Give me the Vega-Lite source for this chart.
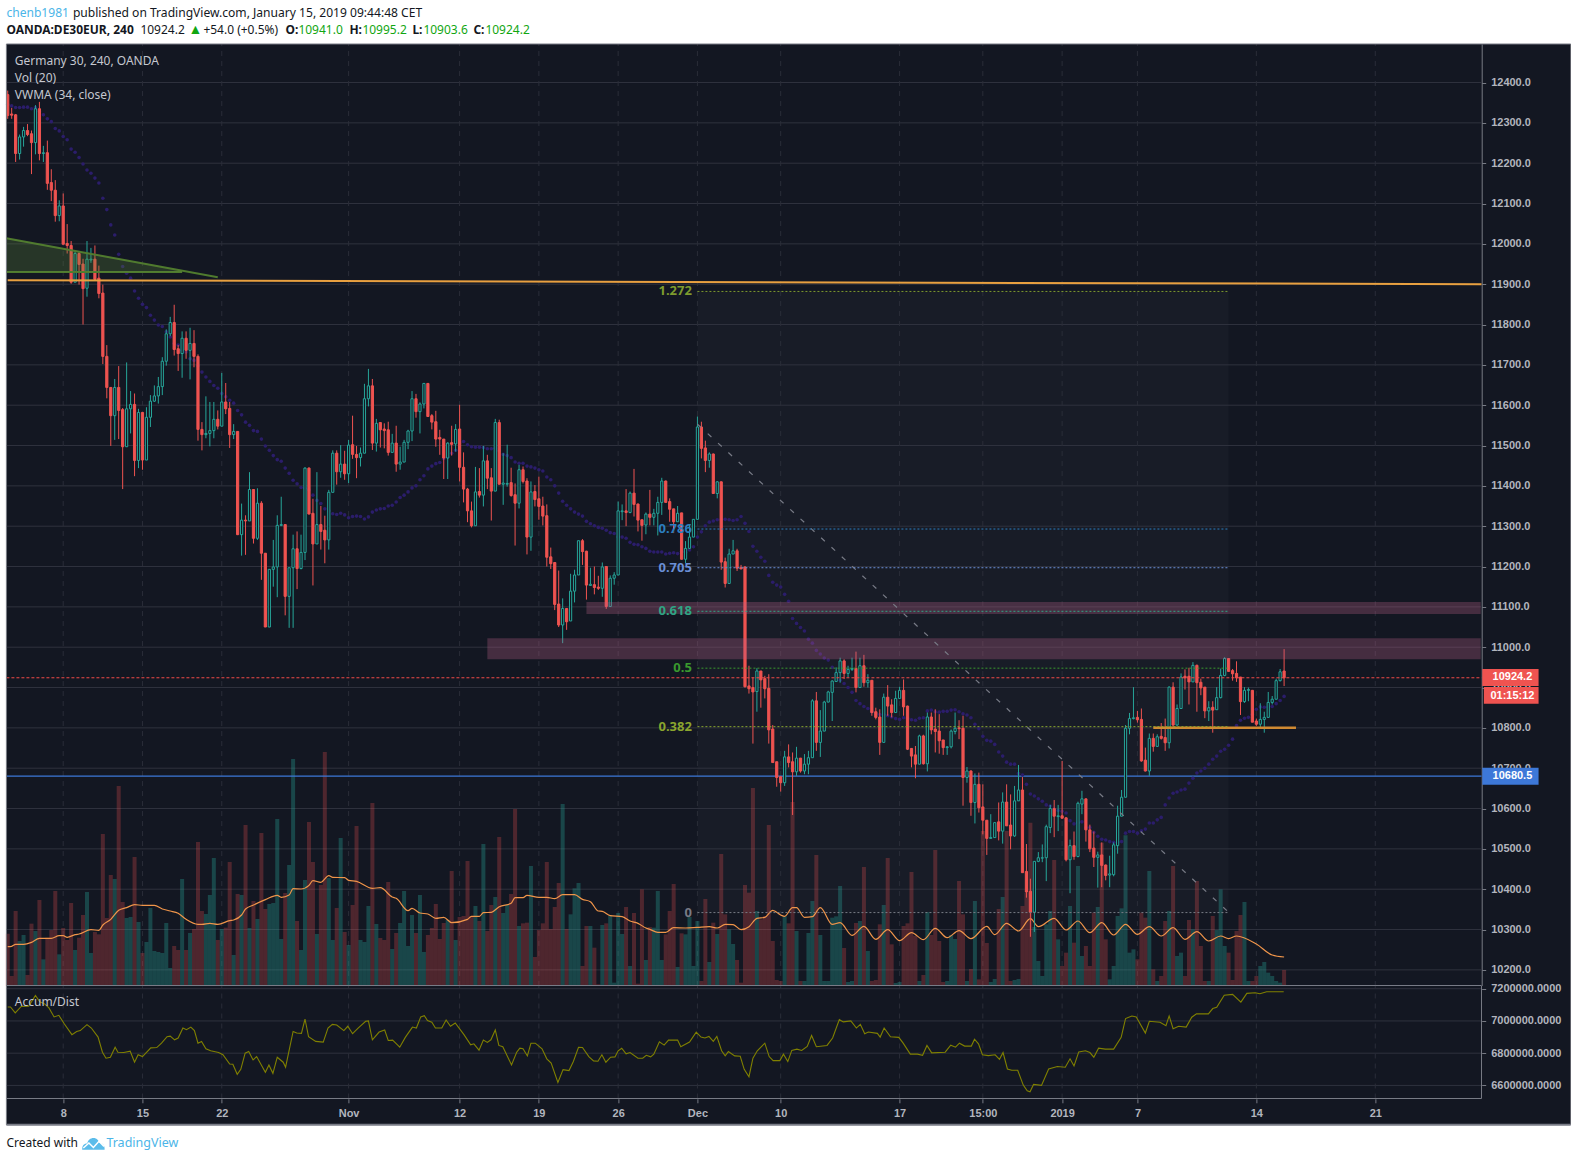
{
"$schema":"https://vega.github.io/schema/vega-lite/v6.json",
"background":"white",
"padding":{"left":2.4,"top":0,"right":0,"bottom":0},
"spacing":0,
"bounds":"flush",
"config":{"view":{"stroke":null},"axis":{"labelFont":"Liberation Sans","labelFontSize":11,"labelFontWeight":"bold","labelColor":"#b2b5be","tickColor":"#787b86","domainColor":"#787b86","title":null,"grid":false},"text":{"font":"Noto Sans"}},
"datasets":{
"bars":[
{"i":0,"o":12370,"h":12380,"l":12310,"c":12318,"v":157,"w":12345},
{"i":1,"o":12322,"h":12337,"l":12310,"c":12319,"v":30,"w":12342},
{"i":2,"o":12320,"h":12322,"l":12203,"c":12224,"v":225,"w":12338},
{"i":3,"o":12224,"h":12271,"l":12209,"c":12265,"v":135,"w":12338},
{"i":4,"o":12265,"h":12290,"l":12241,"c":12281,"v":153,"w":12339},
{"i":5,"o":12281,"h":12297,"l":12267,"c":12271,"v":33,"w":12339},
{"i":6,"o":12273,"h":12281,"l":12173,"c":12251,"v":187,"w":12335},
{"i":7,"o":12251,"h":12344,"l":12222,"c":12335,"v":165,"w":12338},
{"i":8,"o":12335,"h":12352,"l":12207,"c":12224,"v":258,"w":12328},
{"i":9,"o":12224,"h":12243,"l":12203,"c":12226,"v":80,"w":12320},
{"i":10,"o":12226,"h":12256,"l":12134,"c":12150,"v":145,"w":12310},
{"i":11,"o":12152,"h":12185,"l":12106,"c":12133,"v":168,"w":12303},
{"i":12,"o":12133,"h":12158,"l":12055,"c":12070,"v":285,"w":12286},
{"i":13,"o":12070,"h":12108,"l":12056,"c":12094,"v":95,"w":12280},
{"i":14,"o":12094,"h":12125,"l":11999,"c":11999,"v":174,"w":12266},
{"i":15,"o":12001,"h":12049,"l":11976,"c":11996,"v":138,"w":12258},
{"i":16,"o":11996,"h":12007,"l":11901,"c":11905,"v":249,"w":12235},
{"i":17,"o":11905,"h":11982,"l":11905,"c":11976,"v":108,"w":12227},
{"i":18,"o":11976,"h":11982,"l":11899,"c":11949,"v":145,"w":12214},
{"i":19,"o":11950,"h":11963,"l":11800,"c":11889,"v":213,"w":12198},
{"i":20,"o":11890,"h":12007,"l":11869,"c":11962,"v":282,"w":12183},
{"i":21,"o":11960,"h":11990,"l":11953,"c":11962,"v":99,"w":12175},
{"i":22,"o":11962,"h":11996,"l":11912,"c":11912,"v":162,"w":12163},
{"i":23,"o":11915,"h":11946,"l":11865,"c":11877,"v":155,"w":12151},
{"i":24,"o":11878,"h":11899,"l":11702,"c":11721,"v":456,"w":12113},
{"i":25,"o":11721,"h":11749,"l":11617,"c":11644,"v":204,"w":12085},
{"i":26,"o":11644,"h":11644,"l":11499,"c":11574,"v":333,"w":12047},
{"i":27,"o":11574,"h":11665,"l":11514,"c":11644,"v":321,"w":12022},
{"i":28,"o":11644,"h":11697,"l":11516,"c":11587,"v":600,"w":11974},
{"i":29,"o":11589,"h":11593,"l":11392,"c":11497,"v":252,"w":11944},
{"i":30,"o":11497,"h":11706,"l":11497,"c":11591,"v":204,"w":11927},
{"i":31,"o":11591,"h":11635,"l":11530,"c":11602,"v":207,"w":11915},
{"i":32,"o":11602,"h":11629,"l":11424,"c":11463,"v":387,"w":11883},
{"i":33,"o":11463,"h":11591,"l":11444,"c":11582,"v":192,"w":11865},
{"i":34,"o":11582,"h":11582,"l":11440,"c":11464,"v":99,"w":11850},
{"i":35,"o":11464,"h":11595,"l":11464,"c":11570,"v":132,"w":11842},
{"i":36,"o":11570,"h":11625,"l":11546,"c":11610,"v":234,"w":11823},
{"i":37,"o":11610,"h":11649,"l":11608,"c":11623,"v":105,"w":11811},
{"i":38,"o":11623,"h":11670,"l":11604,"c":11646,"v":102,"w":11799},
{"i":39,"o":11646,"h":11719,"l":11625,"c":11709,"v":99,"w":11795},
{"i":40,"o":11709,"h":11788,"l":11698,"c":11777,"v":189,"w":11782},
{"i":41,"o":11777,"h":11819,"l":11771,"c":11805,"v":54,"w":11769},
{"i":42,"o":11805,"h":11849,"l":11723,"c":11738,"v":120,"w":11753},
{"i":43,"o":11740,"h":11749,"l":11685,"c":11728,"v":108,"w":11749},
{"i":44,"o":11728,"h":11783,"l":11668,"c":11766,"v":321,"w":11736},
{"i":45,"o":11766,"h":11783,"l":11715,"c":11736,"v":108,"w":11732},
{"i":46,"o":11736,"h":11792,"l":11664,"c":11753,"v":159,"w":11715},
{"i":47,"o":11753,"h":11786,"l":11694,"c":11721,"v":171,"w":11711},
{"i":48,"o":11721,"h":11726,"l":11512,"c":11540,"v":432,"w":11698},
{"i":49,"o":11540,"h":11558,"l":11488,"c":11527,"v":225,"w":11682},
{"i":50,"o":11527,"h":11622,"l":11518,"c":11530,"v":216,"w":11670},
{"i":51,"o":11530,"h":11608,"l":11498,"c":11537,"v":273,"w":11659},
{"i":52,"o":11537,"h":11608,"l":11518,"c":11565,"v":384,"w":11649},
{"i":53,"o":11565,"h":11587,"l":11540,"c":11548,"v":138,"w":11642},
{"i":54,"o":11548,"h":11680,"l":11548,"c":11608,"v":171,"w":11629},
{"i":55,"o":11608,"h":11655,"l":11578,"c":11591,"v":175,"w":11621},
{"i":56,"o":11592,"h":11608,"l":11494,"c":11527,"v":372,"w":11612},
{"i":57,"o":11527,"h":11553,"l":11516,"c":11535,"v":93,"w":11605},
{"i":58,"o":11535,"h":11536,"l":11278,"c":11279,"v":276,"w":11587},
{"i":59,"o":11279,"h":11356,"l":11227,"c":11315,"v":273,"w":11576},
{"i":60,"o":11315,"h":11327,"l":11229,"c":11313,"v":483,"w":11558},
{"i":61,"o":11313,"h":11434,"l":11313,"c":11391,"v":174,"w":11550},
{"i":62,"o":11391,"h":11391,"l":11257,"c":11270,"v":255,"w":11537},
{"i":63,"o":11270,"h":11394,"l":11266,"c":11357,"v":201,"w":11535},
{"i":64,"o":11357,"h":11362,"l":11167,"c":11233,"v":459,"w":11516},
{"i":65,"o":11233,"h":11233,"l":11050,"c":11050,"v":231,"w":11499},
{"i":66,"o":11050,"h":11193,"l":11050,"c":11193,"v":246,"w":11488},
{"i":67,"o":11193,"h":11266,"l":11150,"c":11199,"v":249,"w":11475},
{"i":68,"o":11199,"h":11327,"l":11124,"c":11302,"v":501,"w":11465},
{"i":69,"o":11302,"h":11373,"l":11300,"c":11304,"v":141,"w":11461},
{"i":70,"o":11304,"h":11304,"l":11079,"c":11126,"v":279,"w":11444},
{"i":71,"o":11126,"h":11197,"l":11048,"c":11197,"v":363,"w":11431},
{"i":72,"o":11197,"h":11279,"l":11048,"c":11244,"v":681,"w":11414},
{"i":73,"o":11244,"h":11287,"l":11144,"c":11195,"v":195,"w":11405},
{"i":74,"o":11195,"h":11279,"l":11193,"c":11235,"v":108,"w":11396},
{"i":75,"o":11235,"h":11446,"l":11216,"c":11444,"v":318,"w":11394},
{"i":76,"o":11444,"h":11446,"l":11330,"c":11330,"v":492,"w":11390},
{"i":77,"o":11332,"h":11368,"l":11153,"c":11256,"v":372,"w":11377},
{"i":78,"o":11256,"h":11434,"l":11256,"c":11304,"v":156,"w":11364},
{"i":79,"o":11304,"h":11350,"l":11242,"c":11287,"v":303,"w":11356},
{"i":80,"o":11290,"h":11326,"l":11208,"c":11266,"v":702,"w":11343},
{"i":81,"o":11266,"h":11390,"l":11242,"c":11384,"v":324,"w":11338},
{"i":82,"o":11384,"h":11488,"l":11384,"c":11481,"v":138,"w":11331},
{"i":83,"o":11481,"h":11488,"l":11403,"c":11435,"v":234,"w":11329},
{"i":84,"o":11435,"h":11501,"l":11420,"c":11454,"v":444,"w":11332},
{"i":85,"o":11454,"h":11487,"l":11415,"c":11430,"v":162,"w":11328},
{"i":86,"o":11430,"h":11514,"l":11407,"c":11501,"v":123,"w":11321},
{"i":87,"o":11502,"h":11574,"l":11467,"c":11478,"v":243,"w":11324},
{"i":88,"o":11478,"h":11499,"l":11419,"c":11470,"v":480,"w":11325},
{"i":89,"o":11470,"h":11495,"l":11448,"c":11481,"v":138,"w":11324},
{"i":90,"o":11481,"h":11653,"l":11481,"c":11616,"v":132,"w":11318},
{"i":91,"o":11616,"h":11690,"l":11597,"c":11648,"v":240,"w":11323},
{"i":92,"o":11648,"h":11665,"l":11489,"c":11506,"v":549,"w":11335},
{"i":93,"o":11506,"h":11566,"l":11485,"c":11555,"v":186,"w":11340},
{"i":94,"o":11557,"h":11557,"l":11495,"c":11539,"v":144,"w":11343},
{"i":95,"o":11541,"h":11555,"l":11493,"c":11537,"v":138,"w":11344},
{"i":96,"o":11539,"h":11559,"l":11475,"c":11483,"v":312,"w":11350},
{"i":97,"o":11483,"h":11529,"l":11483,"c":11506,"v":111,"w":11352},
{"i":98,"o":11506,"h":11549,"l":11435,"c":11454,"v":159,"w":11360},
{"i":99,"o":11454,"h":11497,"l":11440,"c":11459,"v":189,"w":11371},
{"i":100,"o":11459,"h":11514,"l":11459,"c":11508,"v":285,"w":11377},
{"i":101,"o":11508,"h":11539,"l":11491,"c":11536,"v":120,"w":11385},
{"i":102,"o":11536,"h":11635,"l":11511,"c":11616,"v":213,"w":11395},
{"i":103,"o":11616,"h":11628,"l":11569,"c":11584,"v":159,"w":11400},
{"i":104,"o":11584,"h":11607,"l":11530,"c":11603,"v":273,"w":11415},
{"i":105,"o":11603,"h":11655,"l":11592,"c":11654,"v":102,"w":11425},
{"i":106,"o":11654,"h":11655,"l":11572,"c":11572,"v":153,"w":11442},
{"i":107,"o":11574,"h":11578,"l":11540,"c":11558,"v":174,"w":11449},
{"i":108,"o":11559,"h":11586,"l":11497,"c":11516,"v":246,"w":11455},
{"i":109,"o":11520,"h":11539,"l":11477,"c":11516,"v":141,"w":11458},
{"i":110,"o":11516,"h":11516,"l":11417,"c":11469,"v":189,"w":11468},
{"i":111,"o":11469,"h":11508,"l":11417,"c":11506,"v":198,"w":11472},
{"i":112,"o":11507,"h":11549,"l":11475,"c":11503,"v":345,"w":11481},
{"i":113,"o":11504,"h":11553,"l":11485,"c":11540,"v":138,"w":11488},
{"i":114,"o":11541,"h":11601,"l":11411,"c":11446,"v":207,"w":11506},
{"i":115,"o":11446,"h":11483,"l":11359,"c":11392,"v":210,"w":11510},
{"i":116,"o":11392,"h":11395,"l":11310,"c":11338,"v":375,"w":11502},
{"i":117,"o":11338,"h":11361,"l":11297,"c":11301,"v":210,"w":11497},
{"i":118,"o":11301,"h":11447,"l":11301,"c":11385,"v":240,"w":11496},
{"i":119,"o":11386,"h":11444,"l":11371,"c":11377,"v":195,"w":11496},
{"i":120,"o":11377,"h":11499,"l":11349,"c":11462,"v":426,"w":11495},
{"i":121,"o":11462,"h":11477,"l":11392,"c":11419,"v":165,"w":11492},
{"i":122,"o":11420,"h":11444,"l":11314,"c":11387,"v":243,"w":11492},
{"i":123,"o":11387,"h":11566,"l":11387,"c":11557,"v":267,"w":11493},
{"i":124,"o":11557,"h":11564,"l":11404,"c":11404,"v":447,"w":11487},
{"i":125,"o":11404,"h":11481,"l":11353,"c":11407,"v":219,"w":11478},
{"i":126,"o":11404,"h":11502,"l":11398,"c":11406,"v":243,"w":11475},
{"i":127,"o":11408,"h":11445,"l":11373,"c":11376,"v":276,"w":11470},
{"i":128,"o":11378,"h":11406,"l":11252,"c":11357,"v":531,"w":11459},
{"i":129,"o":11357,"h":11452,"l":11344,"c":11440,"v":180,"w":11456},
{"i":130,"o":11440,"h":11448,"l":11406,"c":11411,"v":188,"w":11456},
{"i":131,"o":11412,"h":11419,"l":11230,"c":11273,"v":190,"w":11449},
{"i":132,"o":11273,"h":11411,"l":11239,"c":11385,"v":360,"w":11447},
{"i":133,"o":11386,"h":11402,"l":11349,"c":11366,"v":87,"w":11444},
{"i":134,"o":11368,"h":11423,"l":11316,"c":11349,"v":168,"w":11440},
{"i":135,"o":11350,"h":11373,"l":11302,"c":11325,"v":188,"w":11437},
{"i":136,"o":11326,"h":11354,"l":11200,"c":11223,"v":372,"w":11422},
{"i":137,"o":11224,"h":11247,"l":11194,"c":11207,"v":171,"w":11415},
{"i":138,"o":11210,"h":11210,"l":11092,"c":11106,"v":237,"w":11400},
{"i":139,"o":11107,"h":11190,"l":11050,"c":11055,"v":309,"w":11382},
{"i":140,"o":11055,"h":11121,"l":11010,"c":11096,"v":546,"w":11362},
{"i":141,"o":11096,"h":11096,"l":11043,"c":11063,"v":171,"w":11352},
{"i":142,"o":11065,"h":11182,"l":11065,"c":11139,"v":215,"w":11343},
{"i":143,"o":11139,"h":11192,"l":11111,"c":11179,"v":293,"w":11335},
{"i":144,"o":11179,"h":11264,"l":11179,"c":11264,"v":309,"w":11330},
{"i":145,"o":11264,"h":11268,"l":11204,"c":11237,"v":60,"w":11325},
{"i":146,"o":11238,"h":11239,"l":11118,"c":11154,"v":180,"w":11312},
{"i":147,"o":11153,"h":11197,"l":11152,"c":11156,"v":180,"w":11306},
{"i":148,"o":11155,"h":11200,"l":11131,"c":11148,"v":115,"w":11301},
{"i":149,"o":11149,"h":11177,"l":11142,"c":11146,"v":5,"w":11297},
{"i":150,"o":11146,"h":11210,"l":11125,"c":11199,"v":183,"w":11295},
{"i":151,"o":11200,"h":11201,"l":11095,"c":11101,"v":188,"w":11290},
{"i":152,"o":11101,"h":11178,"l":11101,"c":11171,"v":211,"w":11284},
{"i":153,"o":11171,"h":11186,"l":11155,"c":11179,"v":10,"w":11282},
{"i":154,"o":11179,"h":11361,"l":11179,"c":11338,"v":219,"w":11273},
{"i":155,"o":11336,"h":11354,"l":11315,"c":11338,"v":156,"w":11273},
{"i":156,"o":11338,"h":11392,"l":11300,"c":11334,"v":237,"w":11270},
{"i":157,"o":11334,"h":11386,"l":11332,"c":11382,"v":60,"w":11260},
{"i":158,"o":11382,"h":11442,"l":11324,"c":11354,"v":219,"w":11255},
{"i":159,"o":11355,"h":11356,"l":11287,"c":11315,"v":7,"w":11254},
{"i":160,"o":11316,"h":11316,"l":11264,"c":11302,"v":290,"w":11249},
{"i":161,"o":11303,"h":11334,"l":11280,"c":11330,"v":78,"w":11245},
{"i":162,"o":11330,"h":11390,"l":11302,"c":11322,"v":177,"w":11238},
{"i":163,"o":11322,"h":11343,"l":11302,"c":11332,"v":175,"w":11236},
{"i":164,"o":11332,"h":11373,"l":11277,"c":11359,"v":285,"w":11236},
{"i":165,"o":11359,"h":11420,"l":11328,"c":11412,"v":78,"w":11236},
{"i":166,"o":11412,"h":11413,"l":11359,"c":11359,"v":155,"w":11231},
{"i":167,"o":11361,"h":11369,"l":11311,"c":11342,"v":225,"w":11233},
{"i":168,"o":11343,"h":11343,"l":11283,"c":11311,"v":306,"w":11234},
{"i":169,"o":11311,"h":11350,"l":11311,"c":11332,"v":57,"w":11232},
{"i":170,"o":11333,"h":11333,"l":11218,"c":11218,"v":158,"w":11237},
{"i":171,"o":11218,"h":11263,"l":11208,"c":11245,"v":155,"w":11235},
{"i":172,"o":11245,"h":11303,"l":11245,"c":11273,"v":207,"w":11241},
{"i":173,"o":11273,"h":11317,"l":11273,"c":11317,"v":60,"w":11249},
{"i":174,"o":11317,"h":11572,"l":11317,"c":11546,"v":195,"w":11273},
{"i":175,"o":11546,"h":11559,"l":11468,"c":11493,"v":15,"w":11286},
{"i":176,"o":11494,"h":11512,"l":11434,"c":11463,"v":261,"w":11301},
{"i":177,"o":11463,"h":11483,"l":11445,"c":11479,"v":72,"w":11310},
{"i":178,"o":11479,"h":11480,"l":11380,"c":11381,"v":190,"w":11313},
{"i":179,"o":11381,"h":11412,"l":11369,"c":11410,"v":156,"w":11316},
{"i":180,"o":11410,"h":11411,"l":11192,"c":11211,"v":396,"w":11316},
{"i":181,"o":11212,"h":11222,"l":11148,"c":11158,"v":215,"w":11317},
{"i":182,"o":11158,"h":11244,"l":11158,"c":11231,"v":170,"w":11316},
{"i":183,"o":11231,"h":11266,"l":11231,"c":11239,"v":126,"w":11314},
{"i":184,"o":11239,"h":11244,"l":11189,"c":11196,"v":78,"w":11316},
{"i":185,"o":11197,"h":11204,"l":11194,"c":11194,"v":10,"w":11324},
{"i":186,"o":11199,"h":11200,"l":10900,"c":10902,"v":303,"w":11307},
{"i":187,"o":10904,"h":10954,"l":10885,"c":10897,"v":280,"w":11287},
{"i":188,"o":10900,"h":10925,"l":10761,"c":10889,"v":594,"w":11250},
{"i":189,"o":10890,"h":10948,"l":10840,"c":10941,"v":225,"w":11238},
{"i":190,"o":10941,"h":10941,"l":10850,"c":10919,"v":200,"w":11223},
{"i":191,"o":10922,"h":10929,"l":10873,"c":10897,"v":210,"w":11213},
{"i":192,"o":10898,"h":10933,"l":10761,"c":10795,"v":483,"w":11178},
{"i":193,"o":10797,"h":10807,"l":10714,"c":10714,"v":135,"w":11161},
{"i":194,"o":10716,"h":10716,"l":10654,"c":10677,"v":18,"w":11154},
{"i":195,"o":10679,"h":10679,"l":10642,"c":10664,"v":15,"w":11149},
{"i":196,"o":10664,"h":10743,"l":10656,"c":10728,"v":210,"w":11131},
{"i":197,"o":10728,"h":10759,"l":10702,"c":10714,"v":188,"w":11114},
{"i":198,"o":10716,"h":10739,"l":10584,"c":10691,"v":552,"w":11071},
{"i":199,"o":10691,"h":10753,"l":10681,"c":10725,"v":165,"w":11059},
{"i":200,"o":10725,"h":10725,"l":10689,"c":10693,"v":15,"w":11049},
{"i":201,"o":10693,"h":10735,"l":10685,"c":10710,"v":15,"w":11040},
{"i":202,"o":10710,"h":10743,"l":10685,"c":10726,"v":159,"w":11020},
{"i":203,"o":10726,"h":10871,"l":10726,"c":10867,"v":255,"w":11010},
{"i":204,"o":10867,"h":10889,"l":10743,"c":10764,"v":393,"w":10992},
{"i":205,"o":10764,"h":10844,"l":10728,"c":10792,"v":153,"w":10983},
{"i":206,"o":10792,"h":10867,"l":10792,"c":10864,"v":15,"w":10973},
{"i":207,"o":10864,"h":10892,"l":10863,"c":10889,"v":15,"w":10968},
{"i":208,"o":10888,"h":10918,"l":10817,"c":10916,"v":205,"w":10950},
{"i":209,"o":10915,"h":10950,"l":10915,"c":10937,"v":209,"w":10933},
{"i":210,"o":10937,"h":10974,"l":10912,"c":10966,"v":300,"w":10918},
{"i":211,"o":10966,"h":10970,"l":10921,"c":10935,"v":114,"w":10910},
{"i":212,"o":10935,"h":10954,"l":10925,"c":10945,"v":12,"w":10900},
{"i":213,"o":10945,"h":10974,"l":10941,"c":10947,"v":15,"w":10888},
{"i":214,"o":10947,"h":10989,"l":10888,"c":10900,"v":189,"w":10868},
{"i":215,"o":10900,"h":10974,"l":10900,"c":10954,"v":195,"w":10860},
{"i":216,"o":10954,"h":10981,"l":10902,"c":10912,"v":357,"w":10853},
{"i":217,"o":10912,"h":10933,"l":10900,"c":10918,"v":105,"w":10848},
{"i":218,"o":10918,"h":10918,"l":10830,"c":10838,"v":15,"w":10840},
{"i":219,"o":10840,"h":10850,"l":10821,"c":10826,"v":18,"w":10835},
{"i":220,"o":10827,"h":10846,"l":10733,"c":10764,"v":185,"w":10833},
{"i":221,"o":10764,"h":10885,"l":10764,"c":10876,"v":243,"w":10833},
{"i":222,"o":10876,"h":10906,"l":10830,"c":10854,"v":384,"w":10830},
{"i":223,"o":10857,"h":10871,"l":10826,"c":10838,"v":125,"w":10827},
{"i":224,"o":10838,"h":10892,"l":10838,"c":10873,"v":9,"w":10823},
{"i":225,"o":10873,"h":10902,"l":10873,"c":10893,"v":12,"w":10821},
{"i":226,"o":10893,"h":10920,"l":10830,"c":10852,"v":180,"w":10825},
{"i":227,"o":10854,"h":10855,"l":10745,"c":10747,"v":188,"w":10824},
{"i":228,"o":10749,"h":10750,"l":10702,"c":10730,"v":342,"w":10820},
{"i":229,"o":10733,"h":10755,"l":10675,"c":10710,"v":150,"w":10819},
{"i":230,"o":10710,"h":10783,"l":10710,"c":10780,"v":15,"w":10824},
{"i":231,"o":10780,"h":10783,"l":10709,"c":10711,"v":33,"w":10825},
{"i":232,"o":10711,"h":10838,"l":10692,"c":10827,"v":222,"w":10842},
{"i":233,"o":10827,"h":10838,"l":10784,"c":10795,"v":153,"w":10844},
{"i":234,"o":10797,"h":10846,"l":10739,"c":10791,"v":408,"w":10840},
{"i":235,"o":10792,"h":10834,"l":10736,"c":10768,"v":135,"w":10839},
{"i":236,"o":10770,"h":10770,"l":10733,"c":10751,"v":12,"w":10841},
{"i":237,"o":10751,"h":10755,"l":10733,"c":10753,"v":15,"w":10841},
{"i":238,"o":10753,"h":10796,"l":10749,"c":10792,"v":153,"w":10844},
{"i":239,"o":10791,"h":10838,"l":10784,"c":10799,"v":141,"w":10845},
{"i":240,"o":10800,"h":10819,"l":10772,"c":10798,"v":315,"w":10840},
{"i":241,"o":10799,"h":10830,"l":10607,"c":10677,"v":215,"w":10835},
{"i":242,"o":10677,"h":10703,"l":10664,"c":10693,"v":15,"w":10832},
{"i":243,"o":10693,"h":10695,"l":10582,"c":10615,"v":51,"w":10825},
{"i":244,"o":10615,"h":10687,"l":10563,"c":10660,"v":255,"w":10809},
{"i":245,"o":10660,"h":10689,"l":10590,"c":10602,"v":20,"w":10798},
{"i":246,"o":10604,"h":10660,"l":10536,"c":10571,"v":465,"w":10779},
{"i":247,"o":10571,"h":10571,"l":10485,"c":10526,"v":129,"w":10769},
{"i":248,"o":10526,"h":10586,"l":10525,"c":10528,"v":12,"w":10767},
{"i":249,"o":10528,"h":10565,"l":10528,"c":10565,"v":21,"w":10759},
{"i":250,"o":10567,"h":10615,"l":10521,"c":10544,"v":231,"w":10740},
{"i":251,"o":10544,"h":10640,"l":10513,"c":10616,"v":267,"w":10730},
{"i":252,"o":10616,"h":10660,"l":10557,"c":10557,"v":465,"w":10715},
{"i":253,"o":10559,"h":10635,"l":10499,"c":10532,"v":15,"w":10710},
{"i":254,"o":10532,"h":10656,"l":10530,"c":10619,"v":18,"w":10710},
{"i":255,"o":10619,"h":10708,"l":10619,"c":10646,"v":21,"w":10687},
{"i":256,"o":10646,"h":10678,"l":10441,"c":10441,"v":240,"w":10683},
{"i":257,"o":10444,"h":10512,"l":10379,"c":10393,"v":280,"w":10660},
{"i":258,"o":10395,"h":10426,"l":10282,"c":10343,"v":490,"w":10636},
{"i":259,"o":10343,"h":10470,"l":10294,"c":10469,"v":177,"w":10631},
{"i":260,"o":10469,"h":10492,"l":10467,"c":10478,"v":75,"w":10624},
{"i":261,"o":10477,"h":10511,"l":10467,"c":10478,"v":30,"w":10618},
{"i":262,"o":10478,"h":10560,"l":10420,"c":10555,"v":185,"w":10609},
{"i":263,"o":10553,"h":10609,"l":10539,"c":10600,"v":225,"w":10606},
{"i":264,"o":10600,"h":10621,"l":10529,"c":10581,"v":378,"w":10599},
{"i":265,"o":10580,"h":10609,"l":10544,"c":10582,"v":140,"w":10595},
{"i":266,"o":10582,"h":10718,"l":10575,"c":10576,"v":60,"w":10593},
{"i":267,"o":10577,"h":10578,"l":10469,"c":10473,"v":100,"w":10589},
{"i":268,"o":10473,"h":10523,"l":10390,"c":10508,"v":240,"w":10570},
{"i":269,"o":10508,"h":10543,"l":10473,"c":10481,"v":130,"w":10562},
{"i":270,"o":10481,"h":10617,"l":10479,"c":10613,"v":360,"w":10565},
{"i":271,"o":10611,"h":10644,"l":10586,"c":10624,"v":90,"w":10567},
{"i":272,"o":10624,"h":10625,"l":10518,"c":10547,"v":120,"w":10553},
{"i":273,"o":10547,"h":10560,"l":10492,"c":10500,"v":60,"w":10553},
{"i":274,"o":10502,"h":10543,"l":10455,"c":10479,"v":220,"w":10541},
{"i":275,"o":10479,"h":10493,"l":10404,"c":10485,"v":237,"w":10531},
{"i":276,"o":10485,"h":10516,"l":10405,"c":10459,"v":430,"w":10524},
{"i":277,"o":10460,"h":10461,"l":10422,"c":10434,"v":140,"w":10522},
{"i":278,"o":10435,"h":10483,"l":10405,"c":10438,"v":20,"w":10518},
{"i":279,"o":10436,"h":10516,"l":10432,"c":10510,"v":60,"w":10516},
{"i":280,"o":10508,"h":10607,"l":10488,"c":10581,"v":210,"w":10516},
{"i":281,"o":10581,"h":10646,"l":10581,"c":10628,"v":233,"w":10518},
{"i":282,"o":10628,"h":10807,"l":10628,"c":10799,"v":452,"w":10539},
{"i":283,"o":10799,"h":10837,"l":10784,"c":10823,"v":100,"w":10543},
{"i":284,"o":10823,"h":10901,"l":10821,"c":10825,"v":110,"w":10543},
{"i":285,"o":10826,"h":10842,"l":10813,"c":10820,"v":80,"w":10539},
{"i":286,"o":10821,"h":10848,"l":10716,"c":10718,"v":220,"w":10545},
{"i":287,"o":10720,"h":10751,"l":10692,"c":10693,"v":205,"w":10549},
{"i":288,"o":10693,"h":10786,"l":10681,"c":10774,"v":345,"w":10564},
{"i":289,"o":10774,"h":10786,"l":10741,"c":10754,"v":50,"w":10564},
{"i":290,"o":10754,"h":10784,"l":10754,"c":10778,"v":15,"w":10572},
{"i":291,"o":10779,"h":10812,"l":10771,"c":10774,"v":30,"w":10578},
{"i":292,"o":10776,"h":10823,"l":10743,"c":10763,"v":195,"w":10609},
{"i":293,"o":10763,"h":10903,"l":10749,"c":10901,"v":225,"w":10626},
{"i":294,"o":10901,"h":10913,"l":10802,"c":10807,"v":360,"w":10638},
{"i":295,"o":10807,"h":10858,"l":10805,"c":10848,"v":90,"w":10641},
{"i":296,"o":10848,"h":10935,"l":10848,"c":10926,"v":100,"w":10646},
{"i":297,"o":10928,"h":10945,"l":10895,"c":10924,"v":30,"w":10648},
{"i":298,"o":10928,"h":10949,"l":10858,"c":10914,"v":198,"w":10663},
{"i":299,"o":10914,"h":10963,"l":10914,"c":10955,"v":170,"w":10675},
{"i":300,"o":10955,"h":10957,"l":10840,"c":10912,"v":315,"w":10688},
{"i":301,"o":10913,"h":10922,"l":10881,"c":10899,"v":120,"w":10693},
{"i":302,"o":10901,"h":10901,"l":10824,"c":10842,"v":15,"w":10700},
{"i":303,"o":10842,"h":10866,"l":10817,"c":10850,"v":15,"w":10710},
{"i":304,"o":10851,"h":10866,"l":10788,"c":10844,"v":210,"w":10722},
{"i":305,"o":10845,"h":10901,"l":10845,"c":10875,"v":168,"w":10730},
{"i":306,"o":10875,"h":10947,"l":10873,"c":10930,"v":290,"w":10742},
{"i":307,"o":10930,"h":10975,"l":10928,"c":10972,"v":120,"w":10747},
{"i":308,"o":10972,"h":10973,"l":10940,"c":10940,"v":100,"w":10757},
{"i":309,"o":10942,"h":10946,"l":10917,"c":10934,"v":18,"w":10772},
{"i":310,"o":10935,"h":10965,"l":10914,"c":10924,"v":165,"w":10806},
{"i":311,"o":10926,"h":10926,"l":10832,"c":10865,"v":213,"w":10819},
{"i":312,"o":10865,"h":10901,"l":10862,"c":10893,"v":252,"w":10824},
{"i":313,"o":10893,"h":10900,"l":10866,"c":10895,"v":15,"w":10826},
{"i":314,"o":10893,"h":10894,"l":10814,"c":10814,"v":15,"w":10833},
{"i":315,"o":10817,"h":10823,"l":10805,"c":10809,"v":30,"w":10846},
{"i":316,"o":10809,"h":10861,"l":10802,"c":10821,"v":60,"w":10852},
{"i":317,"o":10821,"h":10840,"l":10788,"c":10826,"v":72,"w":10851},
{"i":318,"o":10826,"h":10889,"l":10825,"c":10863,"v":40,"w":10852},
{"i":319,"o":10863,"h":10879,"l":10858,"c":10871,"v":30,"w":10853},
{"i":320,"o":10871,"h":10922,"l":10871,"c":10917,"v":15,"w":10860},
{"i":321,"o":10917,"h":10946,"l":10915,"c":10939,"v":10,"w":10868},
{"i":322,"o":10941,"h":10995.2,"l":10903.6,"c":10924.2,"v":48,"w":10878}
],
"volma":[{"i":0,"m":118},{"i":1,"m":119},{"i":2,"m":125},{"i":4,"m":125},{"i":6,"m":131},{"i":8,"m":143},{"i":11,"m":143},{"i":13,"m":151},{"i":14,"m":151},{"i":15,"m":146},{"i":17,"m":154},{"i":18,"m":156},{"i":21,"m":169},{"i":23,"m":167},{"i":24,"m":183},{"i":26,"m":200},{"i":28,"m":227},{"i":30,"m":235},{"i":32,"m":244},{"i":34,"m":242},{"i":37,"m":242},{"i":39,"m":231},{"i":41,"m":225},{"i":43,"m":218},{"i":45,"m":200},{"i":48,"m":185},{"i":49,"m":185},{"i":51,"m":188},{"i":53,"m":185},{"i":56,"m":196},{"i":57,"m":198},{"i":59,"m":213},{"i":60,"m":231},{"i":62,"m":243},{"i":65,"m":259},{"i":68,"m":272},{"i":69,"m":266},{"i":71,"m":273},{"i":72,"m":292},{"i":74,"m":291},{"i":76,"m":302},{"i":77,"m":316},{"i":79,"m":311},{"i":81,"m":331},{"i":82,"m":326},{"i":85,"m":325},{"i":86,"m":317},{"i":88,"m":314},{"i":92,"m":293},{"i":94,"m":295},{"i":97,"m":267},{"i":98,"m":263},{"i":101,"m":226},{"i":102,"m":233},{"i":104,"m":219},{"i":106,"m":216},{"i":108,"m":203},{"i":110,"m":206},{"i":112,"m":190},{"i":116,"m":200},{"i":117,"m":209},{"i":119,"m":209},{"i":120,"m":220},{"i":122,"m":221},{"i":124,"m":238},{"i":127,"m":248},{"i":128,"m":265},{"i":130,"m":265},{"i":131,"m":272},{"i":134,"m":266},{"i":136,"m":266},{"i":138,"m":262},{"i":140,"m":274},{"i":143,"m":274},{"i":145,"m":260},{"i":147,"m":253},{"i":149,"m":225},{"i":150,"m":224},{"i":152,"m":211},{"i":155,"m":208},{"i":157,"m":195},{"i":159,"m":188},{"i":161,"m":174},{"i":162,"m":170},{"i":164,"m":161},{"i":166,"m":161},{"i":168,"m":175},{"i":171,"m":174},{"i":174,"m":176},{"i":177,"m":178},{"i":179,"m":174},{"i":181,"m":185},{"i":183,"m":184},{"i":185,"m":169},{"i":187,"m":178},{"i":189,"m":203},{"i":191,"m":206},{"i":193,"m":227},{"i":195,"m":213},{"i":196,"m":209},{"i":198,"m":235},{"i":199,"m":235},{"i":201,"m":206},{"i":203,"m":208},{"i":205,"m":235},{"i":208,"m":185},{"i":210,"m":190},{"i":213,"m":152},{"i":216,"m":179},{"i":219,"m":140},{"i":222,"m":169},{"i":225,"m":136},{"i":228,"m":160},{"i":231,"m":139},{"i":234,"m":173},{"i":237,"m":145},{"i":240,"m":166},{"i":243,"m":142},{"i":247,"m":179},{"i":249,"m":154},{"i":252,"m":188},{"i":255,"m":165},{"i":258,"m":202},{"i":260,"m":178},{"i":264,"m":203},{"i":267,"m":168},{"i":270,"m":195},{"i":273,"m":160},{"i":276,"m":190},{"i":279,"m":153},{"i":282,"m":185},{"i":285,"m":155},{"i":288,"m":178},{"i":291,"m":150},{"i":294,"m":175},{"i":297,"m":140},{"i":300,"m":163},{"i":303,"m":135},{"i":306,"m":150},{"i":308,"m":142},{"i":310,"m":150},{"i":315,"m":126},{"i":319,"m":93},{"i":322,"m":87}],
"ad":[{"i":0,"a":7087000},{"i":0.7,"a":7087000},{"i":1.9,"a":7050000},{"i":3.4,"a":7090000},{"i":5.3,"a":7092000},{"i":7,"a":7158000},{"i":8.1,"a":7119000},{"i":9.3,"a":7106000},{"i":10.4,"a":7081000},{"i":11.7,"a":7025000},{"i":12.9,"a":7035000},{"i":14.3,"a":6981000},{"i":16.2,"a":6915000},{"i":17.4,"a":6935000},{"i":18.3,"a":6940000},{"i":20,"a":6977000},{"i":21.1,"a":6956000},{"i":22.8,"a":6900000},{"i":23.9,"a":6806000},{"i":24.8,"a":6769000},{"i":25.9,"a":6775000},{"i":27.1,"a":6837000},{"i":27.8,"a":6806000},{"i":29.3,"a":6804000},{"i":30.9,"a":6812000},{"i":32,"a":6744000},{"i":32.9,"a":6790000},{"i":34,"a":6779000},{"i":36.1,"a":6833000},{"i":37.6,"a":6835000},{"i":38.8,"a":6862000},{"i":40.2,"a":6902000},{"i":41,"a":6906000},{"i":42.1,"a":6883000},{"i":43,"a":6894000},{"i":44.2,"a":6956000},{"i":45.1,"a":6946000},{"i":46.2,"a":6962000},{"i":47.1,"a":6940000},{"i":48,"a":6862000},{"i":48.9,"a":6873000},{"i":50,"a":6827000},{"i":51.2,"a":6815000},{"i":53.2,"a":6804000},{"i":54.3,"a":6790000},{"i":56,"a":6733000},{"i":56.8,"a":6731000},{"i":57.9,"a":6669000},{"i":58.8,"a":6700000},{"i":59.9,"a":6800000},{"i":60.8,"a":6810000},{"i":61.9,"a":6758000},{"i":62.8,"a":6779000},{"i":65,"a":6681000},{"i":65.9,"a":6727000},{"i":66.9,"a":6675000},{"i":68,"a":6775000},{"i":69.5,"a":6744000},{"i":70.1,"a":6713000},{"i":72,"a":6935000},{"i":72.9,"a":6925000},{"i":74.1,"a":6923000},{"i":75,"a":7012000},{"i":75.9,"a":6902000},{"i":77.7,"a":6873000},{"i":79.6,"a":6869000},{"i":80.8,"a":6956000},{"i":81.9,"a":6979000},{"i":83,"a":6975000},{"i":84.8,"a":6940000},{"i":85.8,"a":6967000},{"i":87,"a":6921000},{"i":88.4,"a":6956000},{"i":90.3,"a":6998000},{"i":91,"a":7000000},{"i":92,"a":6883000},{"i":93.7,"a":6931000},{"i":95.1,"a":6944000},{"i":96,"a":6879000},{"i":97.1,"a":6881000},{"i":98.9,"a":6837000},{"i":100.3,"a":6898000},{"i":102.1,"a":6962000},{"i":103.1,"a":6956000},{"i":104.2,"a":7025000},{"i":105.1,"a":7033000},{"i":105.9,"a":7002000},{"i":107,"a":6992000},{"i":107.9,"a":6956000},{"i":109.5,"a":6956000},{"i":110.6,"a":7006000},{"i":111.7,"a":6967000},{"i":112.9,"a":6987000},{"i":115.1,"a":6915000},{"i":116.8,"a":6852000},{"i":117.6,"a":6858000},{"i":118.9,"a":6819000},{"i":120,"a":6881000},{"i":121,"a":6867000},{"i":121.9,"a":6883000},{"i":123,"a":6944000},{"i":123.9,"a":6848000},{"i":124.9,"a":6840000},{"i":127.1,"a":6727000},{"i":128.4,"a":6806000},{"i":129.2,"a":6831000},{"i":130,"a":6827000},{"i":131.1,"a":6783000},{"i":132,"a":6862000},{"i":133.1,"a":6862000},{"i":134.8,"a":6827000},{"i":136,"a":6765000},{"i":137.1,"a":6738000},{"i":138.8,"a":6619000},{"i":140.1,"a":6698000},{"i":141.6,"a":6692000},{"i":142.7,"a":6748000},{"i":144,"a":6837000},{"i":145,"a":6835000},{"i":146.6,"a":6779000},{"i":147.8,"a":6752000},{"i":148.9,"a":6750000},{"i":149.9,"a":6790000},{"i":150.9,"a":6744000},{"i":152.1,"a":6775000},{"i":153.2,"a":6777000},{"i":154,"a":6815000},{"i":154.9,"a":6831000},{"i":156,"a":6796000},{"i":157,"a":6804000},{"i":159,"a":6769000},{"i":160.2,"a":6769000},{"i":161.1,"a":6787000},{"i":162.2,"a":6777000},{"i":163,"a":6794000},{"i":164.4,"a":6871000},{"i":165.6,"a":6850000},{"i":166.7,"a":6881000},{"i":169,"a":6881000},{"i":169.8,"a":6840000},{"i":172,"a":6869000},{"i":173.7,"a":6931000},{"i":174.9,"a":6900000},{"i":175.9,"a":6894000},{"i":176.9,"a":6904000},{"i":178,"a":6873000},{"i":178.9,"a":6904000},{"i":180.1,"a":6815000},{"i":181,"a":6783000},{"i":181.8,"a":6810000},{"i":183.4,"a":6783000},{"i":184.8,"a":6781000},{"i":185.8,"a":6700000},{"i":187,"a":6654000},{"i":188,"a":6769000},{"i":189.1,"a":6815000},{"i":191,"a":6862000},{"i":192.1,"a":6779000},{"i":193.1,"a":6754000},{"i":194.8,"a":6754000},{"i":195.7,"a":6794000},{"i":196.8,"a":6748000},{"i":197.8,"a":6817000},{"i":199.1,"a":6825000},{"i":200.3,"a":6817000},{"i":201.7,"a":6842000},{"i":202.8,"a":6910000},{"i":204,"a":6840000},{"i":206.7,"a":6848000},{"i":208.1,"a":6894000},{"i":209.8,"a":7008000},{"i":210.8,"a":6994000},{"i":212.7,"a":7000000},{"i":214.1,"a":6956000},{"i":215.1,"a":6979000},{"i":216.2,"a":6921000},{"i":217.1,"a":6931000},{"i":219.4,"a":6923000},{"i":220.1,"a":6900000},{"i":221.1,"a":6956000},{"i":222.7,"a":6902000},{"i":224.8,"a":6898000},{"i":225.9,"a":6862000},{"i":227.7,"a":6794000},{"i":229.5,"a":6794000},{"i":230.8,"a":6787000},{"i":231.9,"a":6848000},{"i":233.1,"a":6802000},{"i":236.5,"a":6806000},{"i":237.9,"a":6850000},{"i":239.1,"a":6837000},{"i":240.1,"a":6862000},{"i":241.4,"a":6844000},{"i":243.1,"a":6844000},{"i":243.9,"a":6887000},{"i":244.9,"a":6858000},{"i":245.9,"a":6790000},{"i":247.4,"a":6785000},{"i":249.1,"a":6790000},{"i":250.2,"a":6762000},{"i":251.1,"a":6804000},{"i":252.2,"a":6702000},{"i":253.3,"a":6694000},{"i":254.8,"a":6694000},{"i":256.2,"a":6602000},{"i":257.2,"a":6566000},{"i":257.9,"a":6560000},{"i":258.8,"a":6606000},{"i":260.8,"a":6600000},{"i":262.6,"a":6702000},{"i":264.8,"a":6717000},{"i":266.8,"a":6713000},{"i":268,"a":6765000},{"i":269,"a":6721000},{"i":270.2,"a":6808000},{"i":271.9,"a":6815000},{"i":273,"a":6804000},{"i":274,"a":6775000},{"i":275.2,"a":6831000},{"i":276.9,"a":6825000},{"i":279,"a":6825000},{"i":280.9,"a":6898000},{"i":282,"a":7015000},{"i":283.6,"a":7031000},{"i":284.7,"a":7025000},{"i":287,"a":6925000},{"i":288,"a":6998000},{"i":290.7,"a":6992000},{"i":292.2,"a":6971000},{"i":293,"a":7031000},{"i":294,"a":6952000},{"i":295.4,"a":6967000},{"i":297.3,"a":6962000},{"i":298.7,"a":7023000},{"i":299.9,"a":7044000},{"i":302.9,"a":7044000},{"i":304,"a":7077000},{"i":305,"a":7085000},{"i":306.9,"a":7160000},{"i":309,"a":7165000},{"i":311.1,"a":7117000},{"i":312.6,"a":7171000},{"i":314.7,"a":7175000},{"i":315.9,"a":7169000},{"i":317.6,"a":7181000},{"i":321.9,"a":7181000}],
"levels":[{"p":10200},{"p":10300},{"p":10400},{"p":10500},{"p":10600},{"p":10700},{"p":10800},{"p":10900},{"p":11000},{"p":11100},{"p":11200},{"p":11300},{"p":11400},{"p":11500},{"p":11600},{"p":11700},{"p":11800},{"p":11900},{"p":12000},{"p":12100},{"p":12200},{"p":12300},{"p":12400}],
"adlevels":[{"p":6600000},{"p":6800000},{"p":7000000},{"p":7200000}],
"ticks":[{"i":14},{"i":34},{"i":54},{"i":86},{"i":114},{"i":134},{"i":154},{"i":174},{"i":195},{"i":225},{"i":246},{"i":266},{"i":285},{"i":315},{"i":345}],
"fib":[{"t":"1.272","p":11882},{"t":"0.786","p":11293},{"t":"0.705","p":11197},{"t":"0.618","p":11089},{"t":"0.5","p":10948},{"t":"0.382","p":10803},{"t":"0","p":10342}],
"tags":[{"t":"10924.2","i":372,"i2":386.2,"p":10946,"p2":10904,"m":10925,"k":"last"},{"t":"01:15:12","i":372.4,"i2":386.2,"p":10901,"p2":10860,"m":10880,"k":"last"},{"t":"10680.5","i":372,"i2":386.2,"p":10701,"p2":10659,"m":10680,"k":"line"}]
},
"vconcat":[
{"width":1564.3,"height":43.2,
 "encoding":{"x":{"value":0},"y":{"field":"line","type":"ordinal","scale":{"type":"point","domain":["a","b"],"range":[13,30],"padding":0},"axis":null},"text":{"field":"t"}},
 "layer":[
 {"data":{"values":[{"line":"a","t":"chenb1981"}]},"mark":{"type":"text","align":"left","baseline":"middle","fontSize":12.1,"color":"#4bb5e8"}},
 {"data":{"values":[{"line":"a","t":"published on TradingView.com, January 15, 2019 09:44:48 CET"}]},"mark":{"type":"text","align":"left","baseline":"middle","fontSize":12.1,"color":"#131722","dx":66.5}},
 {"data":{"values":[{"line":"b","t":"OANDA:DE30EUR, 240"}]},"mark":{"type":"text","align":"left","baseline":"middle","fontSize":12,"fontWeight":"bold","color":"#131722"}},
 {"data":{"values":[{"line":"b","t":"10924.2"}]},"mark":{"type":"text","align":"left","baseline":"middle","fontSize":12,"color":"#131722","dx":134}},
 {"data":{"values":[{"line":"b","t":"▲"}]},"mark":{"type":"text","align":"left","baseline":"middle","fontSize":14,"color":"#11a611","dx":182}},
 {"data":{"values":[{"line":"b","t":"+54.0 (+0.5%)"}]},"mark":{"type":"text","align":"left","baseline":"middle","fontSize":12,"color":"#131722","dx":197}},
 {"data":{"values":[{"line":"b","t":"O:"}]},"mark":{"type":"text","align":"left","baseline":"middle","fontSize":12,"fontWeight":"bold","color":"#131722","dx":279}},
 {"data":{"values":[{"line":"b","t":"10941.0"}]},"mark":{"type":"text","align":"left","baseline":"middle","fontSize":12,"color":"#11a611","dx":292}},
 {"data":{"values":[{"line":"b","t":"H:"}]},"mark":{"type":"text","align":"left","baseline":"middle","fontSize":12,"fontWeight":"bold","color":"#131722","dx":343}},
 {"data":{"values":[{"line":"b","t":"10995.2"}]},"mark":{"type":"text","align":"left","baseline":"middle","fontSize":12,"color":"#11a611","dx":356}},
 {"data":{"values":[{"line":"b","t":"L:"}]},"mark":{"type":"text","align":"left","baseline":"middle","fontSize":12,"fontWeight":"bold","color":"#131722","dx":406}},
 {"data":{"values":[{"line":"b","t":"10903.6"}]},"mark":{"type":"text","align":"left","baseline":"middle","fontSize":12,"color":"#11a611","dx":417}},
 {"data":{"values":[{"line":"b","t":"C:"}]},"mark":{"type":"text","align":"left","baseline":"middle","fontSize":12,"fontWeight":"bold","color":"#131722","dx":467}},
 {"data":{"values":[{"line":"b","t":"10924.2"}]},"mark":{"type":"text","align":"left","baseline":"middle","fontSize":12,"color":"#11a611","dx":479}}
 ]},
{"width":1564.3,"height":942,"view":{"fill":"#131722","stroke":null},
 "resolve":{"scale":{"y":"independent"}},
 "layer":[
 {"layer":[
  {"data":{"values":[{"p":10342,"p2":11882,"i":174,"i2":308}]},"mark":{"type":"rect","color":"#ffffff","opacity":0.022},
   "encoding":{"x":{"field":"i","type":"quantitative","scale":{"domain":[-0.33,394.3]},"axis":null},"x2":{"field":"i2"},"y":{"field":"p","type":"quantitative","scale":{"domain":[10160,12495.5]},"axis":null},"y2":{"field":"p2"}}},
  {"data":{"name":"levels"},"mark":{"type":"rule","color":"#2f323e","strokeWidth":1},
   "encoding":{"x":{"datum":-0.33,"scale":{"domain":[-0.33,394.3]},"axis":null},"x2":{"datum":371.8},"y":{"field":"p","type":"quantitative","scale":{"domain":[10160,12495.5]},"axis":null}}},
  {"data":{"name":"ticks"},"mark":{"type":"rule","color":"#2a2d38","strokeWidth":1,"strokeDash":[5,5]},
   "encoding":{"x":{"field":"i","type":"quantitative","scale":{"domain":[-0.33,394.3]},"axis":null},"y":{"datum":10160,"scale":{"domain":[10160,12495.5]},"axis":null},"y2":{"datum":12495.5}}}
 ]},
 {"layer":[
  {"data":{"name":"bars"},"mark":{"type":"bar","size":4},
   "encoding":{"x":{"field":"i","type":"quantitative","scale":{"domain":[-0.33,394.3],"padding":0},"axis":null},"y":{"field":"v","type":"quantitative","scale":{"domain":[0,2826]},"axis":null},
    "color":{"condition":{"test":"datum.c>=datum.o","value":"#26a69a"},"value":"#ef5350"},
    "opacity":{"condition":{"test":"datum.c>=datum.o","value":0.33},"value":0.27}}},
  {"data":{"name":"volma"},"mark":{"type":"line","color":"#f0954a","strokeWidth":1.2,"interpolate":"monotone"},
   "encoding":{"x":{"field":"i","type":"quantitative","scale":{"domain":[-0.33,394.3]},"axis":null},"y":{"field":"m","type":"quantitative","scale":{"domain":[0,2826]},"axis":null}}}
 ]},
 {"layer":[
  {"data":{"values":[{"i":-0.33,"p":10680.5},{"i":371.8,"p":10680.5}]},"mark":{"type":"line","color":"#3d78d8","strokeWidth":1.2},
   "encoding":{"x":{"field":"i","type":"quantitative","scale":{"domain":[-0.33,394.3]},"axis":null},"y":{"field":"p","type":"quantitative","scale":{"domain":[10160,12495.5]},
    "axis":{"orient":"right","offset":-89,"values":[10200,10300,10400,10500,10600,10700,10800,10900,11000,11100,11200,11300,11400,11500,11600,11700,11800,11900,12000,12100,12200,12300,12400],"format":".1f","tickSize":4,"labelPadding":5,"labelBound":false,"labelFlush":false}}}},
  {"data":{"name":"bars"},"mark":{"type":"circle","size":13,"opacity":1,"color":"#2b1d6b"},
   "encoding":{"x":{"field":"i","type":"quantitative","scale":{"domain":[-0.33,394.3]},"axis":null},"y":{"field":"w","type":"quantitative","scale":{"domain":[10160,12495.5]}}}},
  {"data":{"name":"bars"},"mark":{"type":"rule","strokeWidth":1},
   "encoding":{"x":{"field":"i","type":"quantitative","scale":{"domain":[-0.33,394.3]},"axis":null},"y":{"field":"l","type":"quantitative","scale":{"domain":[10160,12495.5]}},"y2":{"field":"h"},
    "color":{"condition":{"test":"datum.c>=datum.o","value":"#26a69a"},"value":"#ef5350"}}},
  {"data":{"name":"bars"},"mark":{"type":"bar","size":2.2,"strokeWidth":1},
   "encoding":{"x":{"field":"i","type":"quantitative","scale":{"domain":[-0.33,394.3],"padding":0},"axis":null},"y":{"field":"o","type":"quantitative","scale":{"domain":[10160,12495.5]}},"y2":{"field":"c"},
    "fill":{"condition":{"test":"datum.c>=datum.o","value":"#131722"},"value":"#ef5350"},
    "stroke":{"condition":{"test":"datum.c>=datum.o","value":"#26a69a"},"value":"#ef5350"}}},
  {"data":{"values":[{"i":-0.33,"p":12014},{"i":53,"p":11917}]},"mark":{"type":"line","color":"#4f7a2e","strokeWidth":2},
   "encoding":{"x":{"field":"i","type":"quantitative","scale":{"domain":[-0.33,394.3]},"axis":null},"y":{"field":"p","type":"quantitative","scale":{"domain":[10160,12495.5]}}}},
  {"data":{"values":[{"i":-0.33,"p":11930},{"i":44,"p":11930}]},"mark":{"type":"line","color":"#4f7a2e","strokeWidth":2},
   "encoding":{"x":{"field":"i","type":"quantitative","scale":{"domain":[-0.33,394.3]},"axis":null},"y":{"field":"p","type":"quantitative","scale":{"domain":[10160,12495.5]}}}},
  {"data":{"values":[{"i":-0.33,"p":12014,"p2":11930},{"i":44,"p":11933,"p2":11930}]},"mark":{"type":"area","color":"#5d8a3a","opacity":0.28},
   "encoding":{"x":{"field":"i","type":"quantitative","scale":{"domain":[-0.33,394.3]},"axis":null},"y":{"field":"p","type":"quantitative","scale":{"domain":[10160,12495.5]}},"y2":{"field":"p2"}}},
  {"data":{"values":[{"i":146,"p":11112,"p2":11082},{"i":121,"p":11022,"p2":10970}]},"mark":{"type":"rect","color":"#b85f88","opacity":0.3},
   "encoding":{"x":{"field":"i","type":"quantitative","scale":{"domain":[-0.33,394.3]},"axis":null},"x2":{"datum":371.6},"y":{"field":"p","type":"quantitative","scale":{"domain":[10160,12495.5]}},"y2":{"field":"p2"}}},
  {"data":{"values":[{"i":-0.33,"p":10924.2},{"i":371.8,"p":10924.2}]},"mark":{"type":"line","color":"#f44a47","strokeWidth":1,"strokeDash":[3,2]},
   "encoding":{"x":{"field":"i","type":"quantitative","scale":{"domain":[-0.33,394.3]},"axis":null},"y":{"field":"p","type":"quantitative","scale":{"domain":[10160,12495.5]}}}},
  {"data":{"values":[{"i":0,"p":11910},{"i":371.8,"p":11900}]},"mark":{"type":"line","color":"#e8a040","strokeWidth":2},
   "encoding":{"x":{"field":"i","type":"quantitative","scale":{"domain":[-0.33,394.3]},"axis":null},"y":{"field":"p","type":"quantitative","scale":{"domain":[10160,12495.5]}}}},
  {"data":{"values":[{"i":289,"p":10800},{"i":325,"p":10800}]},"mark":{"type":"line","color":"#d08a32","strokeWidth":2.5},
   "encoding":{"x":{"field":"i","type":"quantitative","scale":{"domain":[-0.33,394.3]},"axis":null},"y":{"field":"p","type":"quantitative","scale":{"domain":[10160,12495.5]}}}},
  {"data":{"values":[{"i":174,"p":11553},{"i":308,"p":10343}]},"mark":{"type":"line","color":"#787b86","strokeWidth":1.2,"strokeDash":[5,9]},
   "encoding":{"x":{"field":"i","type":"quantitative","scale":{"domain":[-0.33,394.3]},"axis":null},"y":{"field":"p","type":"quantitative","scale":{"domain":[10160,12495.5]}}}},
  {"data":{"name":"fib"},"mark":{"type":"rule","strokeWidth":1,"strokeDash":[2,2]},
   "encoding":{"x":{"datum":174,"scale":{"domain":[-0.33,394.3]},"axis":null},"x2":{"datum":308},"y":{"field":"p","type":"quantitative","scale":{"domain":[10160,12495.5]}},
    "color":{"field":"t","type":"nominal","legend":null,"scale":{"domain":["1.272","0.786","0.705","0.618","0.5","0.382","0"],"range":["#7e9b2e","#2b7fc0","#6a8fd6","#2fa584","#3a9a2e","#8aa52e","#787b86"]}}}},
  {"data":{"name":"fib"},"mark":{"type":"text","align":"right","baseline":"middle","font":"Noto Sans","fontSize":13,"fontWeight":"bold"},
   "encoding":{"x":{"datum":172.6,"scale":{"domain":[-0.33,394.3]},"axis":null},"y":{"field":"p","type":"quantitative","scale":{"domain":[10160,12495.5]}},"text":{"field":"t"},
    "color":{"field":"t","type":"nominal","legend":null}}},
  {"data":{"values":[{"t":"Germany 30, 240, OANDA","i":1.8,"p":12453},{"t":"Vol (20)","i":1.8,"p":12411},{"t":"VWMA (34, close)","i":1.8,"p":12368}]},"mark":{"type":"text","align":"left","baseline":"middle","font":"Noto Sans","fontSize":12,"color":"#c5c8d0"},
   "encoding":{"x":{"field":"i","type":"quantitative","scale":{"domain":[-0.33,394.3]},"axis":null},"y":{"field":"p","type":"quantitative","scale":{"domain":[10160,12495.5]}},"text":{"field":"t"}}},
  {"data":{"name":"tags"},"mark":{"type":"rect"},
   "encoding":{"x":{"field":"i","type":"quantitative","scale":{"domain":[-0.33,394.3]},"axis":null},"x2":{"field":"i2"},"y":{"field":"p","type":"quantitative","scale":{"domain":[10160,12495.5]}},"y2":{"field":"p2"},
    "color":{"condition":{"test":"datum.k=='last'","value":"#ef5350"},"value":"#3d78d8"}}},
  {"data":{"name":"tags"},"mark":{"type":"text","align":"center","baseline":"middle","font":"Liberation Sans","fontSize":11,"fontWeight":"bold","color":"#ffffff"},
   "encoding":{"x":{"datum":379.6,"scale":{"domain":[-0.33,394.3]},"axis":null},"y":{"field":"m","type":"quantitative","scale":{"domain":[10160,12495.5]}},"text":{"field":"t"}}},
  {"data":{"values":[{}]},"mark":{"type":"rule","color":"#787b86","strokeWidth":2},
   "encoding":{"x":{"datum":-0.33,"scale":{"domain":[-0.33,394.3]},"axis":null},"x2":{"datum":371.8},"y":{"datum":10160,"scale":{"domain":[10160,12495.5]}}}},
  {"data":{"values":[{}]},"mark":{"type":"rule","color":"#787b86","strokeWidth":1},
   "encoding":{"x":{"datum":-0.33,"scale":{"domain":[-0.33,394.3]},"axis":null},"x2":{"datum":394.3},"y":{"datum":12495.5,"scale":{"domain":[10160,12495.5]}}}},
  {"data":{"values":[{}]},"mark":{"type":"rule","color":"#787b86","strokeWidth":1},
   "encoding":{"x":{"datum":-0.33,"scale":{"domain":[-0.33,394.3]},"axis":null},"y":{"datum":10160,"scale":{"domain":[10160,12495.5]}},"y2":{"datum":12495.5}}}
 ]}
 ]},
{"width":1564.3,"height":138.8,"view":{"fill":"#131722","stroke":null},
 "layer":[
  {"data":{"name":"adlevels"},"mark":{"type":"rule","color":"#2f323e","strokeWidth":1},
   "encoding":{"x":{"datum":-0.33,"type":"quantitative","scale":{"domain":[-0.33,394.3]},
    "axis":{"orient":"bottom","offset":-26,"values":[14,34,54,86,114,134,154,174,195,225,246,266,285,315,345],"labelExpr":"datum.value==14?'8':datum.value==34?'15':datum.value==54?'22':datum.value==86?'Nov':datum.value==114?'12':datum.value==134?'19':datum.value==154?'26':datum.value==174?'Dec':datum.value==195?'10':datum.value==225?'17':datum.value==246?'15:00':datum.value==266?'2019':datum.value==285?'7':datum.value==315?'14':'21'","labelOverlap":false,"labelBound":false,"tickSize":4,"labelPadding":5,"domain":false}},
    "x2":{"datum":371.8},"y":{"field":"p","type":"quantitative","scale":{"domain":[6355625,7216875]},
    "axis":{"orient":"right","offset":-89,"values":[6600000,6800000,7000000,7200000],"format":".4f","tickSize":4,"labelPadding":5,"labelBound":false,"labelFlush":false,"domain":false}}}},
  {"data":{"name":"ticks"},"mark":{"type":"rule","color":"#2a2d38","strokeWidth":1,"strokeDash":[5,5]},
   "encoding":{"x":{"field":"i","type":"quantitative","scale":{"domain":[-0.33,394.3]}},"y":{"datum":6518750,"scale":{"domain":[6355625,7216875]}},"y2":{"datum":7216875}}},
  {"data":{"name":"ad"},"mark":{"type":"line","color":"#808000","strokeWidth":1.1},
   "encoding":{"x":{"field":"i","type":"quantitative","scale":{"domain":[-0.33,394.3]}},"y":{"field":"a","type":"quantitative","scale":{"domain":[6355625,7216875]}}}},
  {"data":{"values":[{"t":"Accum/Dist","i":1.8,"p":7116000}]},"mark":{"type":"text","align":"left","baseline":"middle","font":"Noto Sans","fontSize":12,"color":"#c5c8d0"},
   "encoding":{"x":{"field":"i","type":"quantitative","scale":{"domain":[-0.33,394.3]}},"y":{"field":"p","type":"quantitative","scale":{"domain":[6355625,7216875]}},"text":{"field":"t"}}},
  {"data":{"values":[{}]},"mark":{"type":"rule","color":"#787b86","strokeWidth":1},
   "encoding":{"x":{"datum":-0.33,"scale":{"domain":[-0.33,394.3]}},"x2":{"datum":371.8},"y":{"datum":6518750,"scale":{"domain":[6355625,7216875]}}}},
  {"data":{"values":[{}]},"mark":{"type":"rule","color":"#787b86","strokeWidth":1},
   "encoding":{"x":{"datum":371.8,"scale":{"domain":[-0.33,394.3]}},"y":{"datum":6518750,"scale":{"domain":[6355625,7216875]}},"y2":{"datum":7216875}}},
  {"data":{"values":[{}]},"mark":{"type":"rule","color":"#787b86","strokeWidth":2},
   "encoding":{"x":{"datum":-0.33,"scale":{"domain":[-0.33,394.3]}},"x2":{"datum":394.3},"y":{"datum":6355625,"scale":{"domain":[6355625,7216875]}}}},
  {"data":{"values":[{}]},"mark":{"type":"rule","color":"#787b86","strokeWidth":1},
   "encoding":{"x":{"datum":-0.33,"scale":{"domain":[-0.33,394.3]}},"y":{"datum":6355625,"scale":{"domain":[6355625,7216875]}},"y2":{"datum":7216875}}}
 ]},
{"width":1564.3,"height":36.6,
 "encoding":{"x":{"value":0},"y":{"value":18}},
 "layer":[
 {"data":{"values":[{"t":"Created with"}]},"mark":{"type":"text","align":"left","baseline":"middle","fontSize":12,"color":"#131722"},"encoding":{"text":{"field":"t"}}},
 {"data":{"values":[{"t":"TradingView"}]},"mark":{"type":"text","align":"left","baseline":"middle","fontSize":12.5,"color":"#4bb5e8","dx":100},"encoding":{"text":{"field":"t"}}},
 {"data":{"values":[{"t":"logo"}]},"mark":{"type":"point","filled":true,"opacity":1,"size":500,"color":"#5bbcea","xOffset":87,"shape":"M-1,0.55 C-1,0.2 -0.8,0.05 -0.55,0.05 C-0.5,-0.3 -0.2,-0.5 0.1,-0.45 C0.35,-0.4 0.5,-0.2 0.55,0 C0.85,0 1,0.25 1,0.5 L1,0.6 L-1,0.6 Z"}},
 {"data":{"values":[{"t":"wave"}]},"mark":{"type":"point","filled":false,"opacity":1,"size":500,"color":"#ffffff","strokeWidth":1.5,"xOffset":87,"shape":"M-0.9,0.45 L-0.4,0 L0,0.4 L0.5,-0.15 L0.95,0.3"}}
 ]}
]
}
